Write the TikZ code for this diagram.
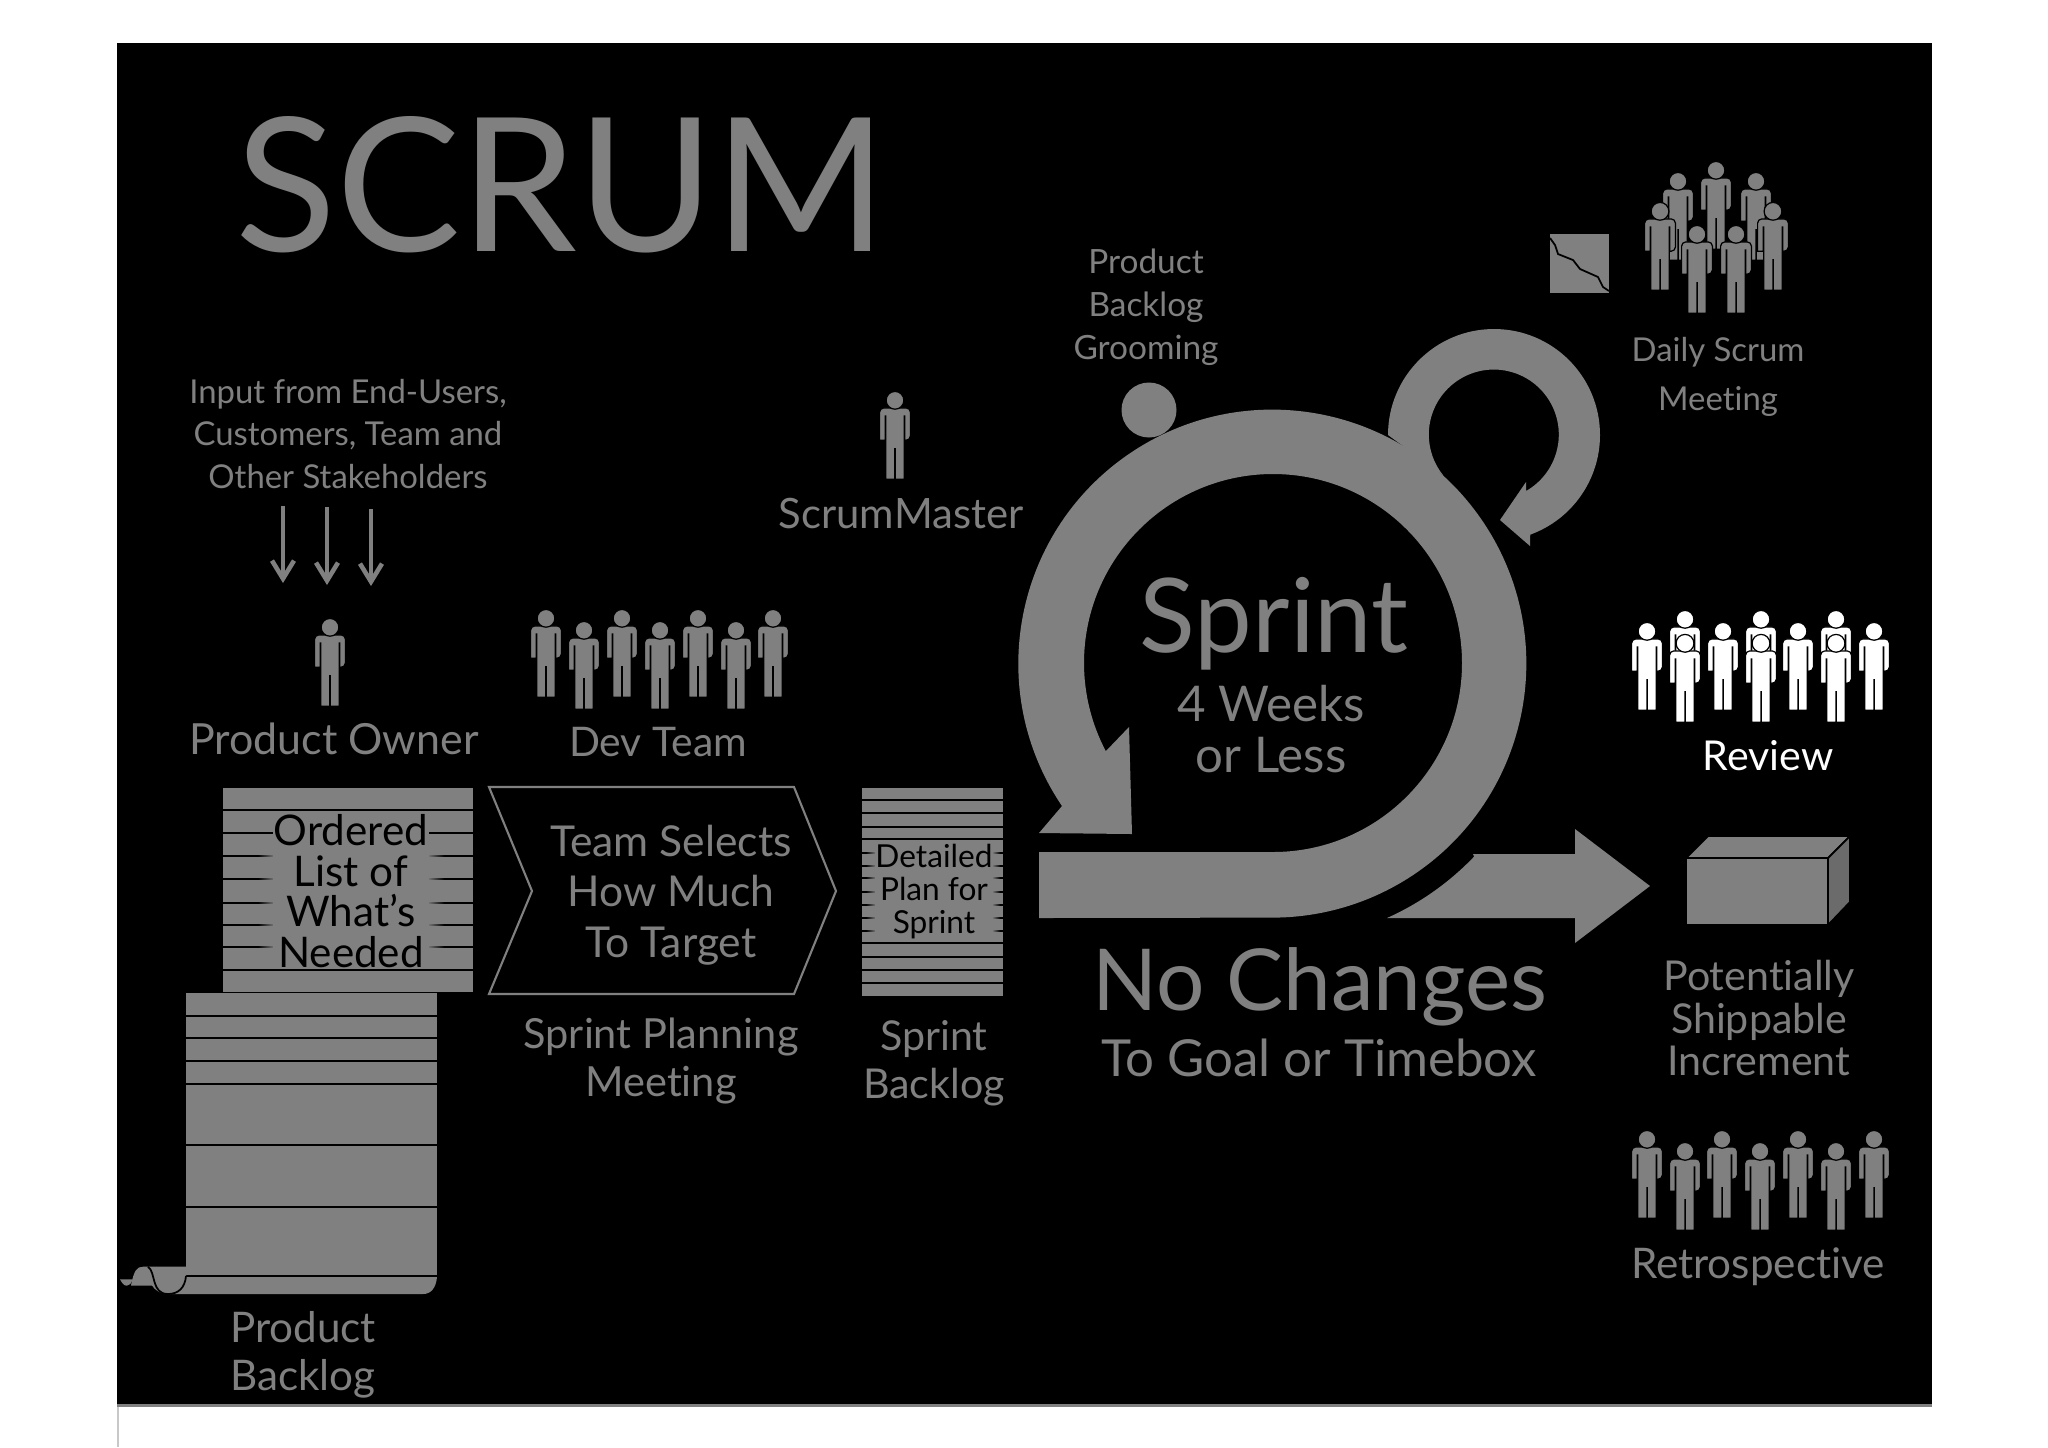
\documentclass[tikz,border=0pt]{standalone}
\usepackage{fontspec}
\setmainfont{Lato}[Ligatures=NoCommon]
\usepackage{xcolor}
\usepackage{tikz}
\usetikzlibrary{arrows.meta}
\usetikzlibrary{fadings}

\definecolor{scrumgrey}{HTML}{808080}
\definecolor{boxside}{HTML}{6B6B6B}
\definecolor{sheetedge}{HTML}{C8C8C8}

\tikzset{
  personline/.style={draw=black,line width=0.35pt},
  stripe/.style={draw=black,line width=0.6pt},
  inputarrow/.style={draw=scrumgrey,line width=1.3pt,-{Straight Barb[length=1.8mm,width=2.2mm]}},
  smalltext/.style={text=scrumgrey,align=center,font=\fontsize{9.35}{12.1}\selectfont},
  dailytext/.style={text=scrumgrey,align=center,font=\fontsize{9.35}{13.9}\selectfont},
  midtext/.style={text=scrumgrey,align=center,font=\fontsize{12}{13.7}\selectfont},
  onstripes/.style={fill=scrumgrey,text=black,align=center,inner sep=0pt}
}

% one figure, #1 and #2 are the top of the head
\newcommand{\person}[3]{%
  \draw[personline,fill=#3,shift={(#1,#2)}] [rounded corners=1.2pt] (-15.4,48.2) -- (-15.4,15.9) -- (15.4,15.9) -- (15.4,48.2)
    [sharp corners] -- (9.8,48.2) -- (9.8,24) -- (9.3,24) -- (9.3,87.3) -- (0.15,87.3) -- (0.15,56.7) -- (-0.15,56.7)
    -- (-0.15,87.3) -- (-9.3,87.3) -- (-9.3,24) -- (-9.8,24) -- (-9.8,48.2) -- cycle;
  \draw[personline,fill=#3,shift={(#1,#2)}] (0,8.3) circle (8.9);
}

\begin{document}
\begin{tikzpicture}[x=0.01cm,y=-0.01cm]

\useasboundingbox (0,0) rectangle (2048,1447);

% Background
\fill[black] (117,43) rectangle (1932,1404);
\fill[scrumgrey] (117,1404) rectangle (1932,1407);
\draw[sheetedge,line width=0.5pt] (118,1407) -- (118,1447);

% Title
\node[text=scrumgrey,font=\fontsize{53}{60}\selectfont] (title) at (561,185) {SCRUM};

% Input and product owner
\node[smalltext] (inputText) at (348,434) {Input from End-Users,\\Customers, Team and\\Other Stakeholders};

\coordinate (arrowAstart) at (283,506);
\coordinate (arrowAend) at (283,583);
\coordinate (arrowBstart) at (327,507);
\coordinate (arrowBend) at (327,585);
\coordinate (arrowCstart) at (371,509);
\coordinate (arrowCend) at (371,586);
\draw[inputarrow] (arrowAstart) -- (arrowAend);
\draw[inputarrow] (arrowBstart) -- (arrowBend);
\draw[inputarrow] (arrowCstart) -- (arrowCend);

\person{330}{619}{scrumgrey}
\node[midtext,font=\fontsize{12.2}{13.7}\selectfont] (ownerText) at (334,739) {Product Owner};

% Dev team
\person{546}{610}{scrumgrey}
\person{622}{610}{scrumgrey}
\person{698}{610}{scrumgrey}
\person{773}{610}{scrumgrey}
\person{584}{622}{scrumgrey}
\person{660}{622}{scrumgrey}
\person{736}{622}{scrumgrey}
\node[midtext,font=\fontsize{11.6}{13.7}\selectfont] (devText) at (658,742) {Dev Team};

% Scrum master
\person{895}{392}{scrumgrey}
\node[midtext,font=\fontsize{11.9}{13.7}\selectfont] (masterText) at (901,513) {ScrumMaster};

% Ordered list box
\fill[scrumgrey] (223,788) rectangle (473,992);
\draw[stripe] (223,810) -- (473,810) (223,833) -- (473,833) (223,856) -- (473,856) (223,879) -- (473,879)
  (223,903) -- (473,903) (223,925) -- (473,925) (223,947) -- (473,947) (223,970) -- (473,970);
\fill[scrumgrey,path fading=west] (258,838) rectangle (275,968);
\fill[scrumgrey,path fading=east] (427,838) rectangle (444,968);
\node[onstripes,font=\fontsize{12}{11.6}\selectfont,minimum width=1.55cm,minimum height=1.56cm] (orderedText) at (351,891) {Ordered\\List of\\What’s\\Needed};

% Product backlog scroll
\fill[scrumgrey] (186,993) rectangle (437,1276);
\draw[stripe] (186,1016) -- (437,1016) (186,1038) -- (437,1038) (186,1061) -- (437,1061) (186,1084) -- (437,1084)
  (186,1145) -- (437,1145) (186,1207) -- (437,1207) (186,1276) -- (437,1276);
\fill[scrumgrey] (186,1277) -- (437,1277) .. controls (436,1288) and (431,1294) .. (423,1294) -- (168,1294) -- cycle;
\fill[scrumgrey] (131,1285.5) .. controls (134,1270) and (137,1266.7) .. (143,1266.7) -- (186,1266.7) -- (186,1280)
  .. controls (184,1290) and (178,1294) .. (168,1294) .. controls (160,1294) and (155,1290) .. (152,1285.5) -- cycle;
\fill[scrumgrey] (120,1279.3) -- (132.7,1279.3) .. controls (131,1284) and (129,1285.7) .. (126.7,1285.7) .. controls (124,1285.7) and (122,1283) .. (120,1279.3) -- cycle;
\draw[black,line width=0.5pt] (148,1266.7) .. controls (156,1272) and (151,1294) .. (168,1294) .. controls (178,1294) and (185,1288) .. (186,1276);
\node[midtext] (backlogText) at (303,1355) {Product\\Backlog};

% Sprint planning meeting
\draw[scrumgrey,line width=0.6pt] (489,787) -- (794,787) -- (836,891) -- (794,994) -- (489,994) -- (532,891) -- cycle;
\node[midtext,font=\fontsize{12.1}{14.4}\selectfont] (selectText) at (671,895) {Team Selects\\How Much\\To Target};
\node[midtext,font=\fontsize{11.8}{13.5}\selectfont] (planningText) at (661,1061) {Sprint Planning\\Meeting};

% Sprint backlog box
\fill[scrumgrey] (862,788) rectangle (1003,996);
\draw[stripe] (862,800) -- (1003,800) (862,813) -- (1003,813) (862,827) -- (1003,827) (862,839) -- (1003,839)
  (862,853) -- (1003,853) (862,866) -- (1003,866) (862,878) -- (1003,878) (862,892) -- (1003,892)
  (862,905) -- (1003,905) (862,918) -- (1003,918) (862,931) -- (1003,931) (862,943) -- (1003,943)
  (862,957) -- (1003,957) (862,970) -- (1003,970) (862,983) -- (1003,983);
\fill[scrumgrey,path fading=west] (866,842) rectangle (876,941);
\fill[scrumgrey,path fading=east] (992,842) rectangle (1000,941);
\node[onstripes,font=\fontsize{9}{9.3}\selectfont,minimum width=1.18cm,minimum height=1cm] (detailedText) at (934,891.5) {Detailed\\Plan for\\Sprint};
\node[midtext,font=\fontsize{11.7}{13.7}\selectfont] (sprintBacklogText) at (934,1063) {Sprint\\Backlog};

% Main sprint arrow
\fill[scrumgrey] (1039,852) -- (1273,852) arc[start angle=90,end angle=-207.8,radius=189] -- (1129,727) -- (1132,834) -- (1039,833)
  -- (1062,806) arc[start angle=-214.1,end angle=90,radius=254] -- (1039,918) -- cycle;

% Daily loop
\fill[scrumgrey] (1388,435) arc[start angle=180,end angle=430,radius=106] -- (1530,546) -- (1500,520) -- (1526,482) -- (1526,491)
  arc[start angle=420.3,end angle=141,radius=65] -- cycle;

% Grooming
\fill[scrumgrey] (1149,410) circle (27.5);
\node[smalltext,font=\fontsize{9.5}{12.3}\selectfont] (groomingText) at (1146,307) {Product\\Backlog\\Grooming};

% Sprint text
\node[text=scrumgrey,font=\fontsize{29.3}{34}\selectfont] (sprintText) at (1274,624) {Sprint};
\node[midtext,font=\fontsize{14}{14.6}\selectfont] (weeksText) at (1271,729) {4 Weeks\\or Less};

% Increment arrow
\fill[scrumgrey] (1473,854) -- (1575,854) -- (1575,829) -- (1650,886) -- (1575,943) -- (1575,918) -- (1387,918) arc[start angle=65.9,end angle=43.7,radius=277] -- cycle;

% No changes
\node[text=scrumgrey,font=\fontsize{24.3}{28}\selectfont] (changesText) at (1320,987) {No Changes};
\node[text=scrumgrey,font=\fontsize{14.5}{16}\selectfont] (goalText) at (1319,1058) {To Goal or Timebox};

% Burndown chart
\fill[scrumgrey] (1550,234) rectangle (1609,293);
\draw[black,line width=0.5pt] (1550,238) -- (1555,245) -- (1558,254) -- (1573,260) -- (1580,269) -- (1598,277) -- (1603,287) -- (1609,291);

% Daily scrum people
\person{1716}{162}{scrumgrey}
\person{1678}{173}{scrumgrey}
\person{1756}{173}{scrumgrey}
\person{1660}{203}{scrumgrey}
\person{1773}{203}{scrumgrey}
\person{1697}{226}{scrumgrey}
\person{1736}{226}{scrumgrey}
\node[dailytext] (dailyText) at (1718,377) {Daily Scrum\\Meeting};

% Review
\person{1685}{611}{white}
\person{1761}{611}{white}
\person{1836}{611}{white}
\person{1647}{623}{white}
\person{1723}{623}{white}
\person{1798}{623}{white}
\person{1874}{623}{white}
\person{1685}{635}{white}
\person{1761}{635}{white}
\person{1836}{635}{white}
\node[midtext,text=white,font=\fontsize{11.7}{13}\selectfont] (reviewText) at (1768,756) {Review};

% Increment box
\draw[black,fill=scrumgrey,line width=0.5pt] (1686,858) rectangle (1828,925);
\draw[black,fill=scrumgrey,line width=0.5pt] (1686,858) -- (1708,836) -- (1850,836) -- (1828,858) -- cycle;
\draw[black,fill=boxside,line width=0.5pt] (1828,858) -- (1850,836) -- (1850,902) -- (1828,925) -- cycle;
\node[smalltext,font=\fontsize{11.7}{12.1}\selectfont] (incrementText) at (1759,1018) {Potentially\\Shippable\\Increment};

% Retrospective
\person{1647}{1131}{scrumgrey}
\person{1722}{1131}{scrumgrey}
\person{1798}{1131}{scrumgrey}
\person{1874}{1131}{scrumgrey}
\person{1685}{1143}{scrumgrey}
\person{1760}{1143}{scrumgrey}
\person{1836}{1143}{scrumgrey}
\node[midtext,font=\fontsize{12}{13}\selectfont] (retroText) at (1758,1267) {Retrospective};

\end{tikzpicture}
\end{document}
